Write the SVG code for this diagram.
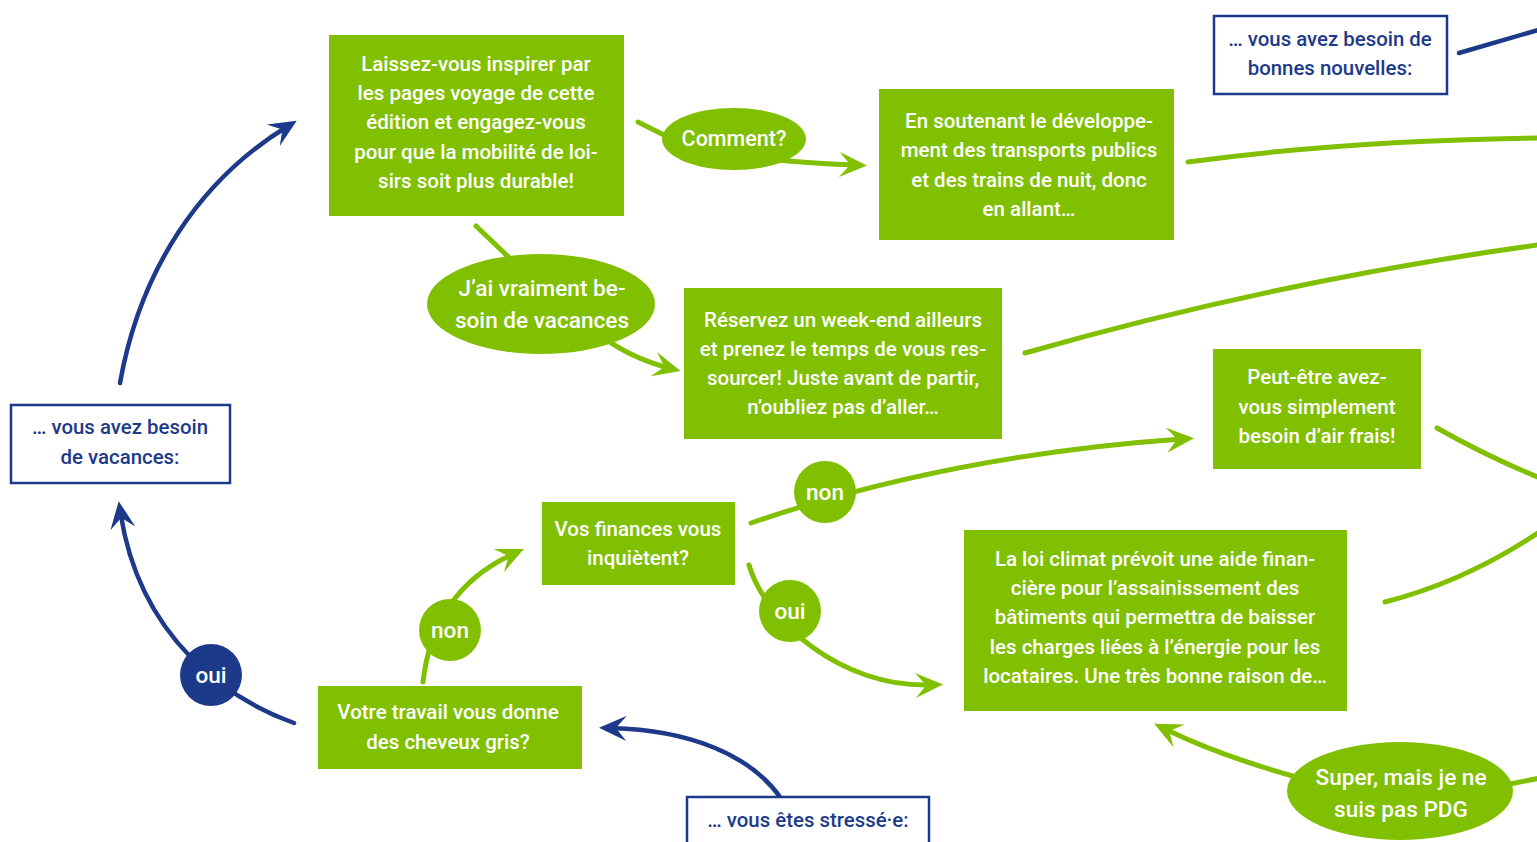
<svg xmlns="http://www.w3.org/2000/svg" width="1537" height="842" viewBox="0 0 1537 842">
<style>
.gbox{fill:#80c000}
.bbox{fill:#ffffff;stroke:#1d3a8a;stroke-width:2.5}
.wt{font-family:Roboto,"Liberation Sans",sans-serif;font-weight:500;font-size:20.5px;fill:#ffffff;text-anchor:middle}
.bt{font-family:Roboto,"Liberation Sans",sans-serif;font-weight:500;font-size:20.4px;fill:#1d3a8a;text-anchor:middle}
.big{font-size:22.6px}
.cm{font-size:21.5px}
.gl{fill:none;stroke:#80c000;stroke-width:5;stroke-linecap:round}
.bl{fill:none;stroke:#1d3a8a;stroke-width:4.5;stroke-linecap:round}
</style>
<defs>
<marker id="ag" markerUnits="userSpaceOnUse" markerWidth="36" markerHeight="30" viewBox="-16 -12 30 24" refX="0" refY="0" orient="auto">
<path d="M10,0 L-13,-10.5 L-4,0 L-13,10.5 Z" fill="#80c000"/>
</marker>
<marker id="ab" markerUnits="userSpaceOnUse" markerWidth="36" markerHeight="30" viewBox="-16 -12 30 24" refX="0" refY="0" orient="auto">
<path d="M10,0 L-13,-10.5 L-4,0 L-13,10.5 Z" fill="#1d3a8a"/>
</marker>
</defs>
<g id="connectors">
<path class="gl" d="M638,122 L690,148 Q765,162 855,165" marker-end="url(#ag)"/>
<path class="gl" d="M476,226 L520,268 M600,335 Q630,358 669,368" marker-end="url(#ag)"/>
<path class="gl" d="M1188,162 Q1350,140 1545,138"/>
<path class="gl" d="M1025,353 Q1280,280 1545,244"/>
<path class="gl" d="M1437,428 Q1490,458 1545,480"/>
<path class="gl" d="M1385,602 Q1470,580 1545,528"/>
<path class="gl" d="M1500,786 L1545,777"/>
<path class="gl" d="M1300,778 Q1220,756 1165,729" marker-end="url(#ag)"/>
<path class="gl" d="M751,523 Q950,455 1182,439" marker-end="url(#ag)"/>
<path class="gl" d="M749,565 C765,620 840,688 931,685" marker-end="url(#ag)"/>
<path class="gl" d="M423,682 C430,620 460,578 513,554" marker-end="url(#ag)"/>
<path class="bl" d="M294,723 C230,700 140,640 120.5,513" marker-end="url(#ab)"/>
<path class="bl" d="M120,383 C140,270 200,180 286.5,127" marker-end="url(#ab)"/>
<path class="bl" d="M780,797 C750,755 690,730 611,728" marker-end="url(#ab)"/>
<path class="bl" d="M1459,53 L1545,28"/>
</g>
<g id="box-inspirer">
<rect class="gbox" x="329" y="35" width="295" height="181"/>
<text class="wt" x="476" y="71">Laissez-vous inspirer par</text>
<text class="wt" x="476" y="100">les pages voyage de cette</text>
<text class="wt" x="476" y="129">édition et engagez-vous</text>
<text class="wt" x="476" y="159">pour que la mobilité de loi-</text>
<text class="wt" x="476" y="188">sirs soit plus durable!</text>
</g>
<g id="box-soutenant">
<rect class="gbox" x="879" y="89" width="295" height="151"/>
<text class="wt" x="1029" y="128">En soutenant le développe-</text>
<text class="wt" x="1029" y="157">ment des transports publics</text>
<text class="wt" x="1029" y="187">et des trains de nuit, donc</text>
<text class="wt" x="1029" y="216">en allant…</text>
</g>
<g id="box-reservez">
<rect class="gbox" x="684" y="288" width="318" height="151"/>
<text class="wt" x="843" y="327">Réservez un week-end ailleurs</text>
<text class="wt" x="843" y="356">et prenez le temps de vous res-</text>
<text class="wt" x="843" y="385">sourcer! Juste avant de partir,</text>
<text class="wt" x="843" y="414">n’oubliez pas d’aller…</text>
</g>
<g id="box-air">
<rect class="gbox" x="1213" y="349" width="208" height="120"/>
<text class="wt" x="1317" y="384">Peut-être avez-</text>
<text class="wt" x="1317" y="414">vous simplement</text>
<text class="wt" x="1317" y="443">besoin d’air frais!</text>
</g>
<g id="box-finances">
<rect class="gbox" x="542" y="502" width="193" height="83"/>
<text class="wt" x="638" y="536">Vos finances vous</text>
<text class="wt" x="638" y="565">inquiètent?</text>
</g>
<g id="box-loi">
<rect class="gbox" x="964" y="530" width="383" height="181"/>
<text class="wt" x="1155" y="566">La loi climat prévoit une aide finan-</text>
<text class="wt" x="1155" y="595">cière pour l’assainissement des</text>
<text class="wt" x="1155" y="624">bâtiments qui permettra de baisser</text>
<text class="wt" x="1155" y="654">les charges liées à l’énergie pour les</text>
<text class="wt" x="1155" y="683">locataires. Une très bonne raison de…</text>
</g>
<g id="box-travail">
<rect class="gbox" x="318" y="686" width="264" height="83"/>
<text class="wt" x="448" y="719">Votre travail vous donne</text>
<text class="wt" x="448" y="749">des cheveux gris?</text>
</g>
<g id="box-nouvelles">
<rect class="bbox" x="1214" y="16" width="233" height="78"/>
<text class="bt" x="1330" y="46">… vous avez besoin de</text>
<text class="bt" x="1330" y="75">bonnes nouvelles:</text>
</g>
<g id="box-vacances">
<rect class="bbox" x="11" y="405" width="219" height="78"/>
<text class="bt" x="120" y="434">… vous avez besoin</text>
<text class="bt" x="120" y="464">de vacances:</text>
</g>
<g id="box-stresse">
<rect class="bbox" x="687" y="797" width="242" height="60"/>
<text class="bt" x="808" y="827">… vous êtes stressé·e:</text>
</g>
<g id="bubble-comment">
<ellipse class="gbox" cx="734" cy="139" rx="72" ry="31"/>
<text class="wt cm" x="734" y="146">Comment?</text>
</g>
<g id="bubble-vacances">
<ellipse class="gbox" cx="541" cy="304" rx="114" ry="50"/>
<text class="wt big" x="542" y="296">J’ai vraiment be-</text>
<text class="wt big" x="542" y="328">soin de vacances</text>
</g>
<g id="bubble-pdg">
<ellipse class="gbox" cx="1400" cy="791" rx="113" ry="49"/>
<text class="wt big" x="1401" y="785">Super, mais je ne</text>
<text class="wt big" x="1401" y="817">suis pas PDG</text>
</g>
<g id="circle-non-1">
<circle class="gbox" cx="825" cy="492" r="31"/>
<text class="wt big" x="825" y="500">non</text>
</g>
<g id="circle-oui-green">
<circle class="gbox" cx="790" cy="611" r="31"/>
<text class="wt big" x="790" y="619">oui</text>
</g>
<g id="circle-non-2">
<circle class="gbox" cx="450" cy="630" r="31"/>
<text class="wt big" x="450" y="638">non</text>
</g>
<g id="circle-oui-blue">
<circle cx="211" cy="675" r="31" fill="#1d3a8a"/>
<text class="wt big" x="211" y="683">oui</text>
</g>
</svg>
